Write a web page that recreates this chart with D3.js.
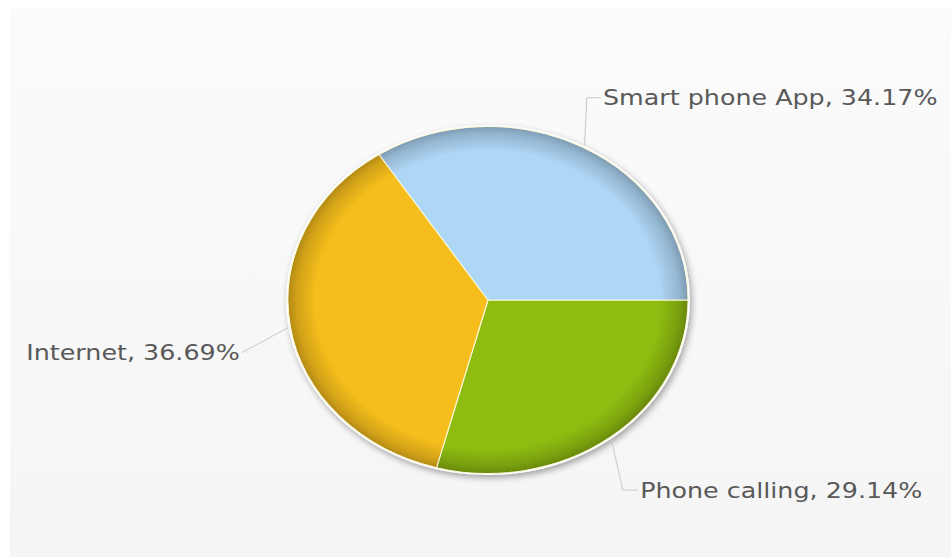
<!DOCTYPE html>
<html>
<head>
<meta charset="utf-8">
<script src="https://cdn.jsdelivr.net/npm/d3@7"></script>
<style>
  html, body { margin: 0; padding: 0; background: #fff; }
  svg { display: block; }
</style>
</head>
<body>
<svg id="chart" width="951" height="558"></svg>
<script>
// Share of orders by channel
const categories = ["Phone calling", "Internet", "Smart phone App"];
const shares = [29.14, 36.69, 34.17];
const colors = ["#8fbc11", "#f6be1c", "#aed6f5"];
const labelText = ["Phone calling, 29.14%", "Internet, 36.69%", "Smart phone App, 34.17%"];

// Leader-line layout per label: elbow offset from the rim anchor, then horizontal tail
const leaderLayout = [
  { dx: 10, dy: 51, tail: 13 },
  { dx: -40, dy: 25, tail: 0 },
  { dx: 2, dy: -48, tail: 12 }
];

const W = 951, H = 558;
const R = 173.5;          // pie radius before horizontal stretch
const stretchX = 1.153;   // horizontal stretch of the whole chart
const cx = 488, cy = 300;

const svg = d3.select("#chart");
const defs = svg.append("defs");

// Panel background
const bg = defs.append("linearGradient").attr("id", "panelBg")
  .attr("x1", 0).attr("y1", 0).attr("x2", 0).attr("y2", 1);
bg.append("stop").attr("offset", 0).attr("stop-color", "#fbfbfb");
bg.append("stop").attr("offset", 1).attr("stop-color", "#f5f5f5");
svg.append("rect").attr("x", 10).attr("y", 9).attr("width", W - 10).attr("height", H - 10)
  .attr("fill", "url(#panelBg)");

// Drop shadow for the pie
const shadow = defs.append("filter").attr("id", "pieShadow")
  .attr("x", "-20%").attr("y", "-20%").attr("width", "140%").attr("height", "140%");
shadow.append("feGaussianBlur").attr("in", "SourceAlpha").attr("stdDeviation", 3).attr("result", "b");
shadow.append("feOffset").attr("in", "b").attr("dx", 2).attr("dy", 3).attr("result", "o");
shadow.append("feComponentTransfer").attr("in", "o").attr("result", "s")
  .append("feFuncA").attr("type", "linear").attr("slope", 0.35);
const merge = shadow.append("feMerge");
merge.append("feMergeNode").attr("in", "s");
merge.append("feMergeNode").attr("in", "SourceGraphic");

// Rim-shaded fill per slice
colors.forEach((c, i) => {
  const g = defs.append("radialGradient").attr("id", "slice" + i)
    .attr("gradientUnits", "userSpaceOnUse").attr("cx", 0).attr("cy", 0).attr("r", R);
  const base = d3.color(c);
  g.append("stop").attr("offset", 0).attr("stop-color", base.formatHex());
  g.append("stop").attr("offset", 0.86).attr("stop-color", base.formatHex());
  g.append("stop").attr("offset", 0.955).attr("stop-color", base.darker(0.45).formatHex());
  g.append("stop").attr("offset", 1).attr("stop-color", base.darker(0.9).formatHex());
});

const chart = svg.append("g")
  .attr("transform", `translate(${cx},${cy}) scale(${stretchX},1)`);

const pie = d3.pie().sort(null).value(d => d)
  .startAngle(Math.PI / 2).endAngle(Math.PI / 2 + 2 * Math.PI);
const arcs = pie(shares);
const arc = d3.arc().innerRadius(0).outerRadius(R);

// White rim + shadow underneath
chart.append("circle").attr("r", R + 1.5).attr("fill", "#fff")
  .attr("filter", "url(#pieShadow)");

chart.selectAll("path.slice").data(arcs).join("path")
  .attr("class", "slice")
  .attr("d", arc)
  .attr("fill", (d, i) => `url(#slice${i})`)
  .attr("stroke", "#fbf8dc")
  .attr("stroke-width", 1.1)
  .attr("vector-effect", "non-scaling-stroke");

// Labels with leader lines
const labels = chart.selectAll("g.label").data(arcs).join("g").attr("class", "label");
labels.each(function (d, i) {
  const mid = (d.startAngle + d.endAngle) / 2;
  const ax = (R + 2) * Math.sin(mid), ay = -(R + 2) * Math.cos(mid);
  const lay = leaderLayout[i];
  const ex = ax + lay.dx, ey = ay + lay.dy;
  const side = Math.sin(mid) >= 0 ? 1 : -1;
  const tx = ex + side * lay.tail;
  const g = d3.select(this);
  g.append("path")
    .attr("d", d3.line()([[ax, ay], [ex, ey], [tx, ey]]))
    .attr("fill", "none")
    .attr("stroke", "#c9c9c4")
    .attr("stroke-width", 1)
    .attr("vector-effect", "non-scaling-stroke");
  g.append("text")
    .attr("x", tx + side * 2)
    .attr("y", ey)
    .attr("dy", "0.35em")
    .attr("text-anchor", side > 0 ? "start" : "end")
    .attr("font-family", "'DejaVu Sans', Verdana, sans-serif")
    .attr("font-size", 22)
    .attr("fill", "#595959")
    .text(labelText[i]);
});
</script>
</body>
</html>
